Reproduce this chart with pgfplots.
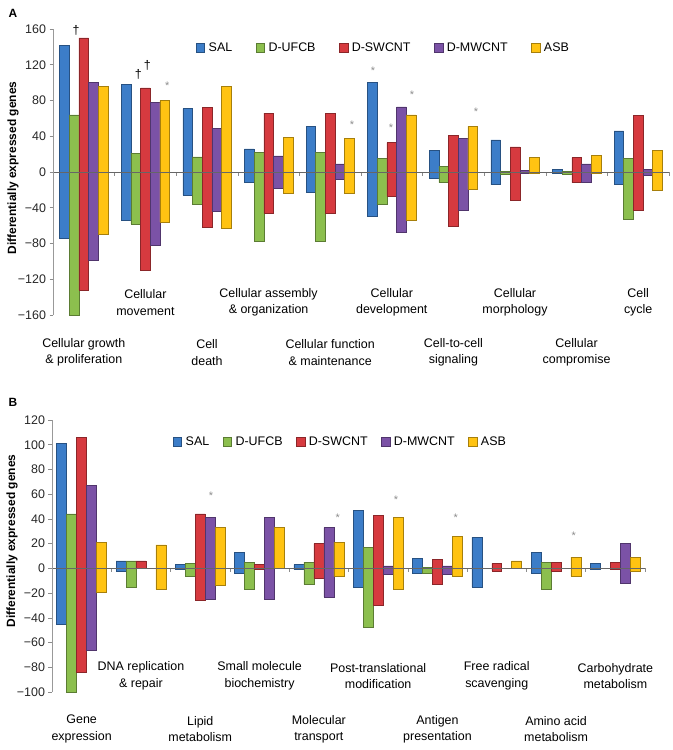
\documentclass[border=0pt]{standalone}
\usepackage{fontspec}
\setmainfont{Liberation Sans}
\usepackage{pgfplots}
\pgfplotsset{compat=1.18}
\usepackage{pgfplotstable}

\definecolor{cSAL}{HTML}{3C7DC8}
\definecolor{cUF}{HTML}{8CBF4E}
\definecolor{cSW}{HTML}{D63A3F}
\definecolor{cMW}{HTML}{7B52A6}
\definecolor{cASB}{HTML}{FFC312}

\pgfplotstableread{
c  SALp SALn UFp UFn  SWp SWn  MWp MWn ASBp ASBn
1  142  -74  64  -160 150 -132 100 -99 96   -70
2  98   -54  21  -58  94  -110 78  -82 80   -56
3  71   -26  17  -36  72  -62  49  -44 96   -63
4  26   -11  22  -77  66  -46  18  -18 39   -24
5  51   -23  22  -77  66  -46  9   -8  38   -24
6  100  -49  15  -36  33  -27  73  -67 64   -54
7  24   -7   6   -12  41  -61  38  -43 51   -19
8  36   -14  1   -3   28  -32  2   -1  16   -1
9  3    -1   1   -2   16  -12  9   -12 19   -1
10 46   -14  15  -53  63  -43  3   -4  24   -20
}\dataA

\pgfplotstableread{
c  SALp SALn UFp UFn  SWp SWn MWp MWn ASBp ASBn
1  101  -45  44  -100 106 -84 67  -66 21   -19
2  6    -2   6   -15  6   0   0   0   19   -17
3  3    -1   4   -6   44  -26 41  -25 33   -14
4  13   -4   5   -17  3   -1  41  -25 33   0
5  3    -1   5   -13  20  -8  33  -23 21   -6
6  47   -15  17  -48  43  -30 2   -5  41   -17
7  8    -4   1   -4   7   -13 2   -5  26   -6
8  25   -15  0   0    4   -2  0   0   6    0
9  13   -4   5   -17  5   -2  0   0   9    -6
10 4    -1   0   0    5   -1  20  -12 9    -2
}\dataB

\newcommand{\lbl}{\fontsize{12.5}{16.5}\selectfont}
\newcommand{\astk}[2]{\node[text=black!45,font=\fontsize{11}{11}\selectfont] at (axis cs:#1,#2) {*};}
\newcommand{\dg}[2]{\node[font=\fontsize{12.5}{12}\selectfont] at (axis cs:#1,#2) {\textdagger};}

\pgfplotsset{
  mybar/.style n args={2}{ybar, bar width=#2, bar shift=0pt, fill=#1, draw=#1!65!black, line width=0.5bp,
    legend image code/.code={\path[draw=none,fill=none] (0bp,0bp) -- (11bp,0bp);\draw[fill=#1, draw=#1!65!black, line width=0.5bp] (0bp,-4.5bp) rectangle (8.5bp,4.5bp);}},
  panel/.style={
    scale only axis, clip=false, axis on top,
    xmin=0.5, xmax=10.5,
    axis x line=middle, axis y line=left,
    x axis line style={-, draw=black!60, line width=0.7bp},
    y axis line style={-, draw=black!40, line width=0.7bp},
    xtick={0.5,1.5,...,10.5}, xticklabels={},
    xtick align=outside, ytick align=outside,
    major tick length=3.5bp,
    tick style={draw=black!45, line width=0.6bp},
    yticklabel style={font=\lbl, text=black!85},
    ylabel={Differentially expressed genes},
    legend columns=5,
    legend style={draw=none, fill=none, font=\lbl, anchor=center,
      nodes={inner sep=1.5bp}},
  }
}

\begin{document}
\begin{tikzpicture}
\useasboundingbox (0,0) rectangle (673bp,-750bp);
\node[font=\bfseries\fontsize{12}{14}\selectfont] at (13bp,-13bp) {A};
\node[font=\bfseries\fontsize{12}{14}\selectfont] at (13bp,-402bp) {B};

\begin{axis}[panel,
  at={(53bp,-29bp)}, anchor=north west,
  width=616bp, height=286bp,
  ymin=-160, ymax=160,
  ytick={-160,-120,-80,-40,0,40,80,120,160},
  yticklabels={−160,−120,−80,−40,0,40,80,120,160},
  ylabel style={font=\bfseries\fontsize{12}{14}\selectfont, at={(axis description cs:-0.065,0.514)}, anchor=center},
  legend style={at={(axis description cs:0.536,0.934)},
    /tikz/every even column/.append style={column sep=22bp}},
]
\addplot[mybar={cSAL}{0.157}] table[x expr=\thisrow{c}-0.314, y=SALp]{\dataA};
\addlegendentry{SAL}
\addplot[mybar={cUF}{0.157}] table[x expr=\thisrow{c}-0.157, y=UFp]{\dataA};
\addlegendentry{D-UFCB}
\addplot[mybar={cSW}{0.157}] table[x expr=\thisrow{c}, y=SWp]{\dataA};
\addlegendentry{D-SWCNT}
\addplot[mybar={cMW}{0.157}] table[x expr=\thisrow{c}+0.157, y=MWp]{\dataA};
\addlegendentry{D-MWCNT}
\addplot[mybar={cASB}{0.157}] table[x expr=\thisrow{c}+0.314, y=ASBp]{\dataA};
\addlegendentry{ASB}
\addplot[mybar={cSAL}{0.157}, forget plot] table[x expr=\thisrow{c}-0.314, y=SALn]{\dataA};
\addplot[mybar={cUF}{0.157}, forget plot] table[x expr=\thisrow{c}-0.157, y=UFn]{\dataA};
\addplot[mybar={cSW}{0.157}, forget plot] table[x expr=\thisrow{c}, y=SWn]{\dataA};
\addplot[mybar={cMW}{0.157}, forget plot] table[x expr=\thisrow{c}+0.157, y=MWn]{\dataA};
\addplot[mybar={cASB}{0.157}, forget plot] table[x expr=\thisrow{c}+0.314, y=ASBn]{\dataA};

\dg{0.873}{158}
\dg{1.885}{109}
\dg{2.03}{119}
\astk{2.355}{96}
\astk{5.354}{53}
\astk{5.695}{113}
\astk{5.987}{49}
\astk{6.328}{86}
\astk{7.367}{67}

\node[align=center,font=\lbl] at (axis cs:1,-202) {Cellular growth\\\& proliferation};
\node[align=center,font=\lbl] at (axis cs:2,-146) {Cellular\\movement};
\node[align=center,font=\lbl] at (axis cs:3,-202) {Cell\\death};
\node[align=center,font=\lbl] at (axis cs:4,-146) {Cellular assembly\\\& organization};
\node[align=center,font=\lbl] at (axis cs:5,-202) {Cellular function\\\& maintenance};
\node[align=center,font=\lbl] at (axis cs:6,-146) {Cellular\\development};
\node[align=center,font=\lbl] at (axis cs:7,-202) {Cell-to-cell\\signaling};
\node[align=center,font=\lbl] at (axis cs:8,-146) {Cellular\\morphology};
\node[align=center,font=\lbl] at (axis cs:9,-202) {Cellular\\compromise};
\node[align=center,font=\lbl] at (axis cs:10,-146) {Cell\\cycle};
\end{axis}

\begin{axis}[panel,
  at={(52bp,-420bp)}, anchor=north west,
  width=593bp, height=272bp,
  ymin=-100, ymax=120,
  ytick={-100,-80,...,120},
  yticklabels={−100,−80,−60,−40,−20,0,20,40,60,80,100,120},
  ylabel style={font=\bfseries\fontsize{12}{14}\selectfont, at={(axis description cs:-0.0675,0.555)}, anchor=center},
  legend style={at={(axis description cs:0.486,0.919)},
    /tikz/every even column/.append style={column sep=12bp}},
]
\addplot[mybar={cSAL}{0.168}] table[x expr=\thisrow{c}-0.336, y=SALp]{\dataB};
\addlegendentry{SAL}
\addplot[mybar={cUF}{0.168}] table[x expr=\thisrow{c}-0.168, y=UFp]{\dataB};
\addlegendentry{D-UFCB}
\addplot[mybar={cSW}{0.168}] table[x expr=\thisrow{c}, y=SWp]{\dataB};
\addlegendentry{D-SWCNT}
\addplot[mybar={cMW}{0.168}] table[x expr=\thisrow{c}+0.168, y=MWp]{\dataB};
\addlegendentry{D-MWCNT}
\addplot[mybar={cASB}{0.168}] table[x expr=\thisrow{c}+0.336, y=ASBp]{\dataB};
\addlegendentry{ASB}
\addplot[mybar={cSAL}{0.168}, forget plot] table[x expr=\thisrow{c}-0.336, y=SALn]{\dataB};
\addplot[mybar={cUF}{0.168}, forget plot] table[x expr=\thisrow{c}-0.168, y=UFn]{\dataB};
\addplot[mybar={cSW}{0.168}, forget plot] table[x expr=\thisrow{c}, y=SWn]{\dataB};
\addplot[mybar={cMW}{0.168}, forget plot] table[x expr=\thisrow{c}+0.168, y=MWn]{\dataB};
\addplot[mybar={cASB}{0.168}, forget plot] table[x expr=\thisrow{c}+0.336, y=ASBn]{\dataB};

\astk{3.18}{58.5}
\astk{5.32}{40.7}
\astk{6.30}{55.3}
\astk{7.31}{40.7}
\astk{9.30}{26.2}

\node[align=center,font=\lbl] at (axis cs:1,-130) {Gene\\expression};
\node[align=center,font=\lbl] at (axis cs:2,-87) {DNA replication\\\& repair};
\node[align=center,font=\lbl] at (axis cs:3,-130) {Lipid\\metabolism};
\node[align=center,font=\lbl] at (axis cs:4,-87) {Small molecule\\biochemistry};
\node[align=center,font=\lbl] at (axis cs:5,-130) {Molecular\\transport};
\node[align=center,font=\lbl] at (axis cs:6,-87) {Post-translational\\modification};
\node[align=center,font=\lbl] at (axis cs:7,-130) {Antigen\\presentation};
\node[align=center,font=\lbl] at (axis cs:8,-87) {Free radical\\scavenging};
\node[align=center,font=\lbl] at (axis cs:9,-130) {Amino acid\\metabolism};
\node[align=center,font=\lbl] at (axis cs:10,-87) {Carbohydrate\\metabolism};
\end{axis}
\end{tikzpicture}
\end{document}
